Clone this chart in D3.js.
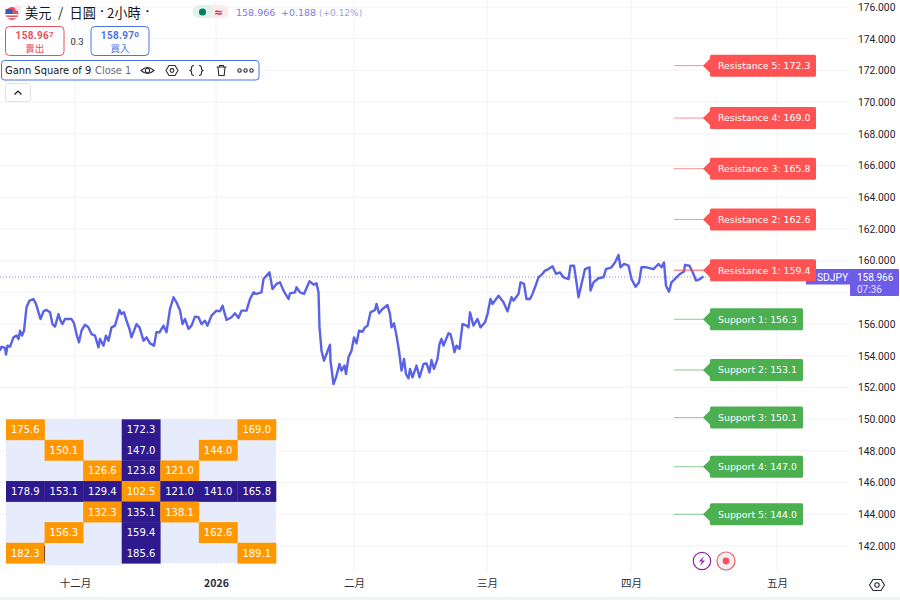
<!DOCTYPE html>
<html><head><meta charset="utf-8">
<script src="https://cdn.jsdelivr.net/npm/d3@7"></script>
<style>html,body{margin:0;padding:0;background:#fff}svg{display:block}</style></head>
<body><svg id="c" width="900" height="600"></svg>
<script>
const bars=[0,3,10,12,15,20,27,33,37,40,44,48,53,59,67,72,77,81,87,93,100,105,110,117,121,125,130,143,148,153,158,163,170,177,183,190,197,200,207,212,217,223,230,239,243,248,253,259,263,273,279,287,293,300,308,313,319,327,333,340,347,353,360,365,370,377,383,390,397,403,410,415,423,433,440,445,453,463,470,477,483,493,500,507,513,523,527,539,545,553,560,567,577,580,590,593,600,608,619,627,633,637,639,643,648,653,660,661,667,672,679,683,689,692,697,703,708,713,718,725,730,735,741,750,753,758,765,775,780,783,788,793,798,803,808,812,817,820,825,833,839,847,853,859,863,868,875,879,883,887,897,901,905,909,913,919,925,933,937,940,947,955,961,970,975,981,985,997,1007,1015,1023,1027,1037,1041,1048,1053,1060,1065,1070,1077,1083,1090,1097,1105,1112,1120,1127,1137,1141,1148,1153,1157,1163,1170,1179,1181,1187,1197,1207,1212,1223,1230,1237,1241,1248,1257,1263,1271,1278,1283,1293,1307,1317,1323,1328,1332,1338,1343,1353,1360,1368,1370,1379,1387,1392,1400,1407];
const prices=[154.32,154.57,154.49,154.07,154.64,154.57,155.16,155.27,155.06,155.58,155.27,155.58,157.06,157.48,157.58,157.27,156.74,156.32,156.80,156.89,156.74,156.00,155.84,156.63,156.21,156.00,156.32,156.32,156.05,155.37,154.85,155.58,155.96,155.79,155.37,155.27,154.53,155.06,154.64,155.27,154.95,155.79,155.90,156.89,156.63,156.74,156.21,155.69,155.16,156.00,155.79,154.95,155.16,154.78,154.64,155.48,155.48,155.90,155.48,156.95,157.69,157.37,156.85,156.00,156.32,155.69,155.90,156.47,156.43,156.00,156.21,155.90,156.53,156.85,156.80,157.16,156.26,156.43,156.68,156.38,156.85,156.85,157.58,158.00,157.90,158.00,158.84,159.26,158.21,158.53,158.63,158.11,157.58,157.94,158.00,158.32,158.00,157.90,158.70,158.49,158.57,158.00,155.79,154.32,153.69,154.11,154.70,153.69,152.22,152.64,153.48,153.06,153.38,152.85,153.90,154.32,155.16,154.78,155.58,155.52,155.79,155.90,156.74,156.89,157.27,156.68,156.95,157.20,156.63,155.79,156.05,155.27,154.32,153.06,153.80,152.85,152.58,153.17,152.64,153.38,152.64,153.48,153.52,152.95,153.73,153.17,153.80,154.74,155.06,154.64,155.42,155.37,154.85,154.22,154.64,154.43,156.00,155.90,155.79,156.74,155.90,156.32,155.79,156.11,156.63,157.58,157.27,157.79,157.37,156.80,157.69,157.48,157.90,158.63,158.53,157.58,157.58,157.90,158.32,158.95,159.10,159.37,159.47,159.64,159.17,159.26,158.95,158.84,159.68,159.68,158.63,157.69,158.53,159.47,159.58,158.11,158.63,158.89,158.95,159.47,159.58,159.89,160.36,159.58,159.79,159.68,158.84,158.36,158.63,159.58,159.58,159.47,159.79,159.58,159.89,158.42,158.04,158.63,158.95,159.16,159.31,159.73,159.68,159.16,158.74,158.84,159.01];
const lastPrice=158.966;
const yTicks=[142,144,146,148,150,152,154,156,158,160,162,164,166,168,170,172,174,176];
const yLabelled=yTicks.filter(d=>d!==158); // 158.000 sits under the last-price tag in the reference
const xTickBars=[150,432,708,974,1262,1554];
const xTickLabels=["十二月","2026","二月","三月","四月","五月"];
const levelNames=["Resistance 5","Resistance 4","Resistance 3","Resistance 2","Resistance 1","Support 1","Support 2","Support 3","Support 4","Support 5"];
const levelValues=[172.3,169.0,165.8,162.6,159.4,156.3,153.1,150.1,147.0,144.0];
const gannRows=[
["175.6","","","172.3","","","169.0"],
["","150.1","","147.0","","144.0",""],
["","","126.6","123.8","121.0","",""],
["178.9","153.1","129.4","102.5","121.0","141.0","165.8"],
["","","132.3","135.1","138.1","",""],
["","156.3","","159.4","","162.6",""],
["182.3","","","185.6","","","189.1"]];

const svg=d3.select("#c");
const F='"DejaVu Sans",sans-serif', R='Roboto,sans-serif', CJK='"Noto Sans CJK TC",sans-serif';
const x=d3.scaleLinear().domain([0,1800]).range([0,900]);
const y=d3.scaleLinear().domain([142,176]).range([546,7]);
const GRID="#f1f2f6";

// grid
svg.append("g").selectAll("line").data(yTicks).join("line").attr("x1",0).attr("x2",848)
 .attr("y1",d=>y(d)).attr("y2",d=>y(d)).attr("stroke",GRID);
svg.append("g").selectAll("line").data(xTickBars).join("line").attr("x1",d=>x(d)).attr("x2",d=>x(d))
 .attr("y1",0).attr("y2",572).attr("stroke",GRID);
svg.append("rect").attr("x",0).attr("y",597).attr("width",900).attr("height",3).attr("fill","#f0f1f4");

// y axis
const ya=svg.append("g").attr("transform","translate(848,0)")
 .call(d3.axisRight(y).tickValues(yLabelled).tickSize(0).tickPadding(10).tickFormat(d3.format(".3f")));
ya.select(".domain").remove();
ya.selectAll("text").attr("font-family",R).attr("font-size",10.3).attr("fill","#1f222b");
// x axis
const xa=svg.append("g").attr("transform","translate(0,577)")
 .call(d3.axisBottom(x).tickValues(xTickBars).tickSize(0).tickPadding(3).tickFormat((d,i)=>xTickLabels[i]));
xa.select(".domain").remove();
xa.selectAll("text").attr("font-family",CJK).attr("font-size",10.5).attr("fill","#2a2e39")
 .attr("font-weight",(d,i)=>xTickLabels[i]==="2026"?700:400);

// last price dotted
svg.append("line").attr("x1",0).attr("x2",850).attr("y1",y(lastPrice)).attr("y2",y(lastPrice))
 .attr("stroke","#8f86ea").attr("stroke-dasharray","1 2");

// price line
const line=d3.line().x((d,i)=>x(bars[i])).y(d=>y(d));
svg.append("path").attr("d",line(prices)).attr("fill","none").attr("stroke","#5a62e6")
 .attr("stroke-width",2.4).attr("stroke-linejoin","round");

// right labels
svg.append("rect").attr("x",806).attr("y",269).attr("width",45).attr("height",15.5).attr("fill","#6c5ce7");
svg.append("text").attr("x",817).attr("y",281).text("SDJPY").attr("font-family",R).attr("font-size",10.3).attr("fill","#fff");
svg.append("rect").attr("x",850).attr("y",269).attr("width",49).attr("height",27).attr("rx",1).attr("fill","#6c5ce7");
svg.append("text").attr("x",857).attr("y",280.6).text("158.966").attr("font-family",R).attr("font-size",10).attr("fill","#fff");
svg.append("text").attr("x",857).attr("y",293.2).text("07:36").attr("font-family",R).attr("font-size",10).attr("fill","#e4e1fb");

// level tags
const lv=svg.append("g").selectAll("g").data(levelValues).join("g");
const isRes=(i)=>levelNames[i].startsWith("Res");
lv.append("line").attr("x1",674).attr("x2",706).attr("y1",d=>y(d)).attr("y2",d=>y(d))
 .attr("stroke",(d,i)=>isRes(i)?"#ff5252":"#4caf50").attr("stroke-opacity",(d,i)=>i===4?1:.65);
lv.append("path").attr("transform",d=>`translate(0,${y(d)})`)
 .attr("d",(d,i)=>{const w=isRes(i)?816:803;return `M703,0L710,-7V-9.5Q710,-11 711.5,-11H${w-1.5}Q${w},-11 ${w},-9.5V9.5Q${w},11 ${w-1.5},11H711.5Q710,11 710,9.5V7Z`;})
 .attr("fill",(d,i)=>isRes(i)?"#ff5252":"#4caf50");
lv.append("text").attr("x",718).attr("y",d=>y(d)+3.4).text((d,i)=>`${levelNames[i]}: ${d.toFixed(1)}`)
 .attr("font-family",F).attr("font-size",9.4).attr("fill","#fff");

// Gann table
const tx=d3.scaleBand().domain(d3.range(7)).range([6,276]);
const ty=d3.scaleBand().domain(d3.range(7)).range([419.3,563.3]);
svg.append("rect").attr("x",6).attr("y",419.3).attr("width",270).attr("height",144).attr("fill","#e6ecfb");
svg.append("rect").attr("x",45).attr("y",560).attr("width",77).attr("height",5.5).attr("fill","#e6ecfb");
const cells=gannRows.flatMap((r,ri)=>r.map((v,ci)=>({v,ri,ci})));
const kind=c=>(c.ri===3&&c.ci===3)?"o":(c.ri===3||c.ci===3)?"p":c.v?"o":"";
const tc=svg.append("g").selectAll("g").data(cells.filter(c=>kind(c))).join("g");
tc.append("rect").attr("x",c=>tx(c.ci)).attr("y",c=>ty(c.ri)).attr("width",tx.bandwidth()+.3).attr("height",ty.bandwidth()+.3)
 .attr("fill",c=>kind(c)==="o"?"#ff9800":"#2e1a8e");
tc.append("text").attr("x",c=>tx(c.ci)+tx.bandwidth()/2).attr("y",c=>ty(c.ri)+ty.bandwidth()/2+3.7).attr("text-anchor","middle")
 .text(c=>c.v).attr("font-family",F).attr("font-size",10).attr("fill","#fff");
svg.append("rect").attr("x",44).attr("y",546).attr("width",1).attr("height",15).attr("fill","#7a4a10");

// header
const hdr=svg.append("g");
hdr.append("circle").attr("cx",12).attr("cy",13.5).attr("r",6.5).attr("fill","#e8505b");
hdr.append("rect").attr("x",5.5).attr("y",9).attr("width",7).attr("height",5).attr("fill","#3a57c4");
hdr.append("rect").attr("x",6).attr("y",14).attr("width",12).attr("height",1.4).attr("fill","#fff");
hdr.append("rect").attr("x",7).attr("y",17).attr("width",10).attr("height",1.2).attr("fill","#fff");
hdr.append("circle").attr("cx",18).attr("cy",8).attr("r",3).attr("fill","#f3e4e4");
hdr.selectAll("text.t").data([["美元",25],["/",58],["日圓",69.5],["2小時",107]]).join("text").attr("class","t")
 .attr("x",d=>d[1]).attr("y",18).text(d=>d[0]).attr("font-family",CJK).attr("font-size",13.2).attr("fill","#131722");
hdr.selectAll("text.d").data([100,145.5]).join("text").attr("class","d")
 .attr("x",d=>d).attr("y",15).text("·").attr("font-family",R).attr("font-weight",700).attr("font-size",13).attr("fill","#131722");
hdr.append("path").attr("d","M204,5H199a6.5,6.5 0 0 0 0,13H211V5Z").attr("fill","#dff3ea");
hdr.append("path").attr("d","M211,5H222a6.5,6.5 0 0 1 0,13H211Z").attr("fill","#fdeaea");
hdr.append("circle").attr("cx",202.5).attr("cy",12).attr("r",3.6).attr("fill","#067a63");
hdr.append("text").attr("x",218.5).attr("y",16).attr("text-anchor","middle").text("≈").attr("font-family",F).attr("font-weight",700).attr("font-size",11).attr("fill","#d9304f");
hdr.append("text").attr("x",236).attr("y",15.7).text("158.966").attr("font-family",F).attr("font-size",9.5).attr("fill","#7e76e4");
hdr.append("text").attr("x",281).attr("y",15.7).text("+0.188").attr("font-family",F).attr("font-size",9.5).attr("fill","#7e76e4");
hdr.append("text").attr("x",319).attr("y",15.7).text("(+0.12%)").attr("font-family",F).attr("font-size",9).attr("fill","#a29de9");

function quote(xp,w,col,p1,p2,lab){
 hdr.append("rect").attr("x",xp).attr("y",26.5).attr("width",w).attr("height",29).attr("rx",4).attr("fill","#fff").attr("stroke",col);
 const t=hdr.append("text").attr("x",xp+w/2).attr("y",38.5).attr("text-anchor","middle").attr("font-family",R).attr("font-weight",700).attr("font-size",10).attr("fill",col).attr("letter-spacing",.3);
 t.append("tspan").text(p1); t.append("tspan").text(p2).attr("font-size",8).attr("dy",-2);
 hdr.append("text").attr("x",xp+w/2).attr("y",51.5).attr("text-anchor","middle").text(lab).attr("font-family",CJK).attr("font-size",9.5).attr("fill",col);
}
quote(5.5,58.5,"#e4505d","158.96","7","賣出");
quote(91,58,"#4a72e8","158.97","0","買入");
hdr.append("text").attr("x",77).attr("y",45).attr("text-anchor","middle").text("0.3").attr("font-family",R).attr("font-size",9.5).attr("fill","#2a2e39");

// legend box
hdr.append("rect").attr("x",1.5).attr("y",60.5).attr("width",257.5).attr("height",19.5).attr("rx",3).attr("fill","#fff").attr("stroke","#4a72e8");
hdr.append("text").attr("x",5).attr("y",74).text("Gann Square of 9").attr("font-family",F).attr("font-size",9.9).attr("fill","#131722");
hdr.append("text").attr("x",95).attr("y",74).text("Close 1").attr("font-family",F).attr("font-size",9.9).attr("fill","#6a6d78");
const ic=hdr.append("g").attr("fill","none").attr("stroke","#2a2e39").attr("stroke-width",1.1);
ic.append("path").attr("d","M141,70.5Q147.5,64.5 154,70.5Q147.5,76.5 141,70.5Z");
ic.append("circle").attr("cx",147.5).attr("cy",70.5).attr("r",2.2);
ic.append("path").attr("d","M169,65.5H175L178,70.5L175,75.5H169L166,70.5Z");
ic.append("circle").attr("cx",172).attr("cy",70.5).attr("r",1.9);
ic.append("path").attr("d","M194,65.5Q191.5,65.5 191.5,68V69.5L190,70.5L191.5,71.5V73Q191.5,75.5 194,75.5M199,65.5Q201.5,65.5 201.5,68V69.5L203,70.5L201.5,71.5V73Q201.5,75.5 199,75.5");
ic.append("path").attr("d","M216.5,67H226.5M218,67L218.8,75.5H224.2L225,67M219.5,67V65.5H223.5V67");
ic.append("g").selectAll("circle").data([240,246,252]).join("circle").attr("cx",d=>d-0.5).attr("cy",70.5).attr("r",1.7);
hdr.append("rect").attr("x",5.5).attr("y",83.5).attr("width",25).attr("height",18).attr("rx",2.5).attr("fill","#fff").attr("stroke","#e0e3eb");
hdr.append("path").attr("d","M14.5,94.5L18,91L21.5,94.5").attr("fill","none").attr("stroke","#131722").attr("stroke-width",1.2);

// bottom widgets
const b=svg.append("g");
b.append("circle").attr("cx",702).attr("cy",561).attr("r",8.7).attr("fill","#fff").attr("stroke","#8e24aa").attr("stroke-width",1.2);
b.append("path").attr("d","M704,556L699,561.5H702L700,566L705,560.5H702Z").attr("fill","#8e24aa");
b.append("circle").attr("cx",726).attr("cy",561).attr("r",9).attr("fill","#f0f0f6").attr("stroke","#f25c5c").attr("stroke-width",1.2);
b.append("circle").attr("cx",726).attr("cy",561).attr("r",3.4).attr("fill","#ff5252");
b.append("path").attr("d","M873,579.5H881L884.5,585L881,590.5H873L869.5,585Z").attr("fill","none").attr("stroke","#2a2e39").attr("stroke-width",1.1);
b.append("circle").attr("cx",877).attr("cy",585).attr("r",2.2).attr("fill","none").attr("stroke","#2a2e39").attr("stroke-width",1.1);
</script></body></html>
